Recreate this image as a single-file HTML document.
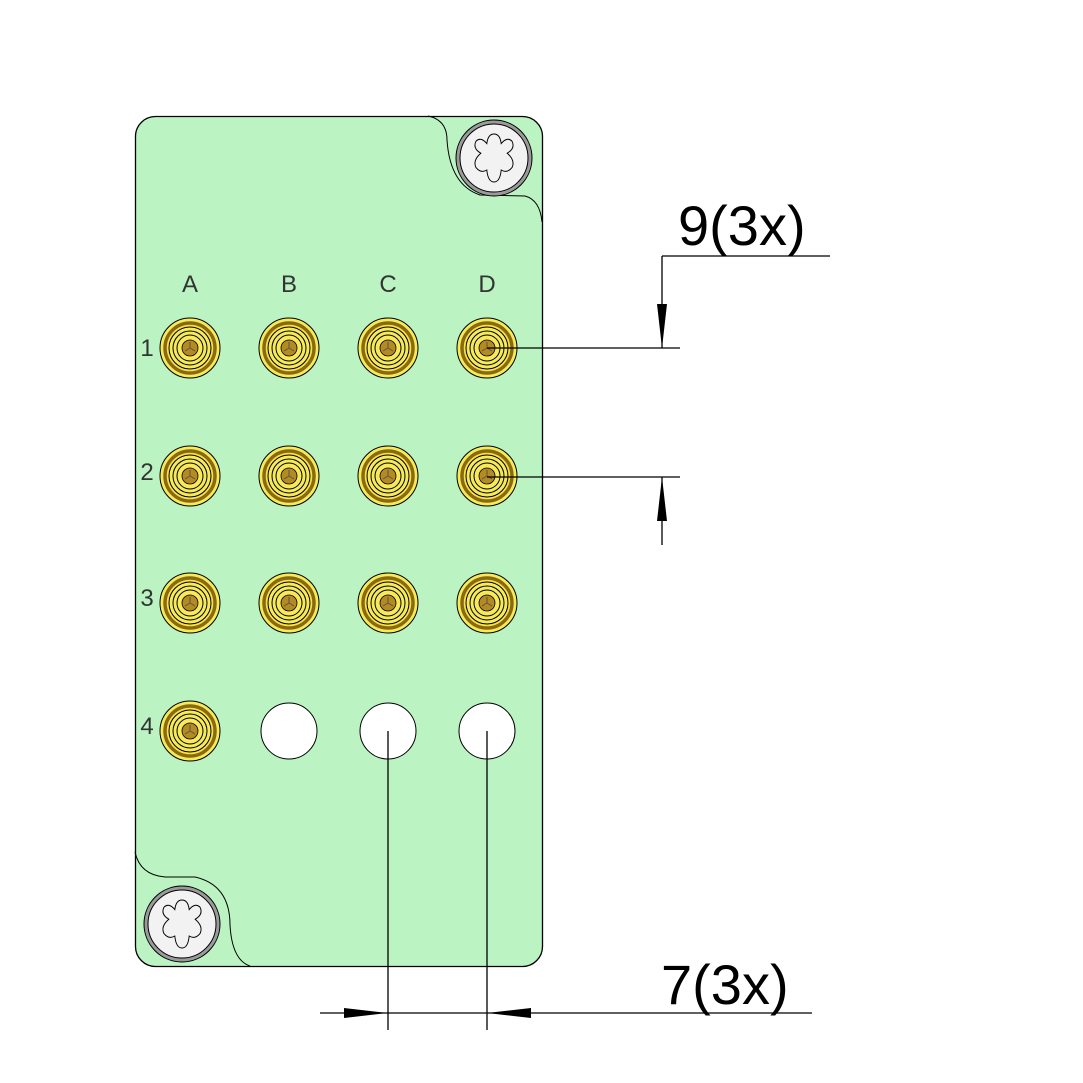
<!DOCTYPE html>
<html><head><style>body{margin:0;background:#fff}svg{display:block}</style></head><body>
<svg width="1083" height="1083" viewBox="0 0 1083 1083" xmlns="http://www.w3.org/2000/svg">
<defs>
<g id="con">
<circle r="30" fill="#f7ea5a" stroke="#000" stroke-width="1"/>
<circle r="25" fill="#f7e04a" stroke="#8a6a10" stroke-width="3.5"/>
<circle r="21" fill="#f7ea5a" stroke="#000" stroke-width="1"/>
<circle r="17" fill="#f7ea5a" stroke="#000" stroke-width="1"/>
<circle r="13" fill="#f7ea5a" stroke="#000" stroke-width="1"/>
<circle r="8" fill="#b58a20" stroke="#000" stroke-width="0.8"/>
<path d="M0 0V-6M0 0L5 3M0 0L-5 3" stroke="#555" stroke-width="1"/>
</g>
<g id="scr">
<circle r="38" fill="#9a9a9a" stroke="#000" stroke-width="1"/>
<circle r="34" fill="#f2f2f2" stroke="#000" stroke-width="1"/>
<path transform="scale(1.2)" d="M0 -20 Q5 -20 6 -12 Q11 -18 15 -14 Q18 -8 11 -4 Q18 2 15 8 Q11 13 6 10 Q5 20 0 20 Q-5 20 -6 10 Q-11 13 -15 8 Q-18 2 -11 -4 Q-18 -8 -15 -14 Q-11 -18 -6 -12 Q-5 -20 0 -20Z" fill="#f2f2f2" stroke="#000" stroke-width="0.8"/>
</g>
</defs>
<rect x="135.5" y="116.5" width="407" height="850" rx="20" fill="#bbf4c2" stroke="#000" stroke-width="1.3"/>
<path d="M428 116 Q447 120 447 140 Q450 185 480 195 L525 196 Q540 200 542 222" fill="none" stroke="#000" stroke-width="1"/>
<path d="M135 852 Q140 875 165 877 L195 877 Q230 885 230 925 Q232 960 250 966" fill="none" stroke="#000" stroke-width="1"/>
<use href="#scr" x="494" y="158"/>
<use href="#scr" x="182" y="924"/>
<g font-family="Liberation Sans, sans-serif" font-size="24" fill="#333" text-anchor="middle">
<text x="190" y="292">A</text><text x="289" y="292">B</text><text x="388" y="292">C</text><text x="487" y="292">D</text>
<text x="147" y="356">1</text><text x="147" y="480">2</text><text x="147" y="606">3</text><text x="147" y="734">4</text>
</g>
<use href="#con" x="190" y="348"/><use href="#con" x="289" y="348"/><use href="#con" x="388" y="348"/><use href="#con" x="487" y="348"/>
<use href="#con" x="190" y="476"/><use href="#con" x="289" y="476"/><use href="#con" x="388" y="476"/><use href="#con" x="487" y="476"/>
<use href="#con" x="190" y="603"/><use href="#con" x="289" y="603"/><use href="#con" x="388" y="603"/><use href="#con" x="487" y="603"/>
<use href="#con" x="190" y="731"/>
<circle cx="289" cy="731" r="28" fill="#fff" stroke="#000" stroke-width="1"/>
<circle cx="388" cy="731" r="28" fill="#fff" stroke="#000" stroke-width="1"/>
<circle cx="487" cy="731" r="28" fill="#fff" stroke="#000" stroke-width="1"/>
<g stroke="#000" stroke-width="1.3" fill="none">
<path d="M487 348H680M487 477H680M662 256V348M662 256H830M662 477V545"/>
<path d="M388 731V1030M487 731V1030M320 1013H812"/>
</g>
<g fill="#000">
<path d="M657 304L667 304L662 348Z"/>
<path d="M657 521L667 521L662 477Z"/>
<path d="M344 1008L344 1018L388 1013Z"/>
<path d="M531 1008L531 1018L487 1013Z"/>
</g>
<g font-family="Liberation Sans, sans-serif" font-size="56" fill="#000">
<text x="678" y="245">9(3x)</text>
<text x="661" y="1004">7(3x)</text>
</g>
</svg>
</body></html>
